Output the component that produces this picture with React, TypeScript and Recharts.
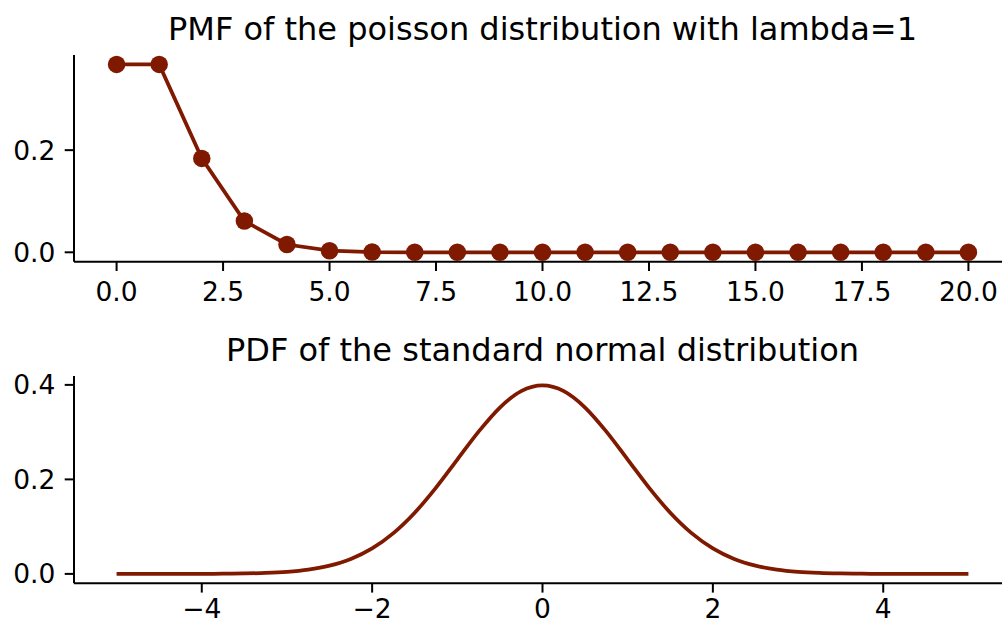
import React from 'react';
import { LineChart, Line, XAxis, YAxis } from 'recharts';

const poissonK = [0, 1, 2, 3, 4, 5, 6, 7, 8, 9, 10, 11, 12, 13, 14, 15, 16, 17, 18, 19, 20];
const poissonPmf = [
  0.3679, 0.3679, 0.1839, 0.0613, 0.0153, 0.0031, 0.0005, 0.0001, 0.0, 0.0, 0.0,
  0.0, 0.0, 0.0, 0.0, 0.0, 0.0, 0.0, 0.0, 0.0, 0.0,
];
const poissonXTicks = [0, 2.5, 5, 7.5, 10, 12.5, 15, 17.5, 20];
const poissonYTicks = [0, 0.2];

const normalX = [
  -5, -4.75, -4.5, -4.25, -4, -3.75, -3.5, -3.25, -3, -2.75, -2.5, -2.25, -2, -1.75, -1.5, -1.25, -1,
  -0.75, -0.5, -0.25, 0, 0.25, 0.5, 0.75, 1, 1.25, 1.5, 1.75, 2, 2.25, 2.5, 2.75, 3, 3.25, 3.5,
  3.75, 4, 4.25, 4.5, 4.75, 5,
];
const normalPdf = [
  0.0, 0.0, 0.0, 0.0, 0.0001, 0.0004, 0.0009, 0.002, 0.0044, 0.0091, 0.0175, 0.0317, 0.054,
  0.0863, 0.1295, 0.1826, 0.242, 0.3011, 0.3521, 0.3867, 0.3989, 0.3867, 0.3521, 0.3011, 0.242,
  0.1826, 0.1295, 0.0863, 0.054, 0.0317, 0.0175, 0.0091, 0.0044, 0.002, 0.0009, 0.0004, 0.0001,
  0.0, 0.0, 0.0, 0.0,
];
const normalXTicks = [-4, -2, 0, 2, 4];
const normalYTicks = [0, 0.2, 0.4];

const COLOR = '#7f1a00';
const FONT = 'DejaVu Sans';
const tickStyle = { fill: '#000', fontSize: 26.5, fontFamily: FONT };
const lineStyle = { stroke: '#000', strokeWidth: 2 };
const TICK = 9.3;

const poissonData = poissonK.map((k, i) => ({ x: k, y: poissonPmf[i] }));
const normalData = normalX.map((x, i) => ({ x, y: normalPdf[i] }));

const minus = (v: number) => String(v).replace('-', '\u2212');

export default function App() {
  return (
    <div style={{ position: 'absolute', left: 0, top: 0, width: 1002, height: 625, overflow: 'hidden', background: '#fff' }}>
      <div style={{ position: 'absolute', left: 0, top: 0 }}>
        <LineChart width={1011} height={320} data={poissonData} margin={{ top: 55, right: 0, bottom: 0, left: 0 }}>
          <XAxis
            dataKey="x"
            type="number"
            domain={[-1, 21]}
            ticks={poissonXTicks}
            interval={0}
            tickFormatter={(v: number) => v.toFixed(1)}
            height={58.3}
            tickSize={TICK}
            tickMargin={11.5}
            tick={tickStyle}
            axisLine={lineStyle}
            tickLine={lineStyle}
          />
          <YAxis
            type="number"
            domain={[-0.0184, 0.3863]}
            ticks={poissonYTicks}
            interval={0}
            tickFormatter={(v: number) => v.toFixed(1)}
            width={74}
            tickSize={TICK}
            tickMargin={TICK}
            tick={tickStyle}
            axisLine={lineStyle}
            tickLine={lineStyle}
          />
          <Line
            type="linear"
            dataKey="y"
            stroke={COLOR}
            strokeWidth={3.75}
            dot={{ r: 8.75, fill: COLOR, stroke: 'none' }}
            activeDot={false}
            isAnimationActive={false}
          />
        </LineChart>
      </div>
      <div style={{ position: 'absolute', left: 0, top: 320 }}>
        <LineChart width={1011} height={305} data={normalData} margin={{ top: 56, right: 0, bottom: 0, left: 0 }}>
          <XAxis
            dataKey="x"
            type="number"
            domain={[-5.5, 5.5]}
            ticks={normalXTicks}
            interval={0}
            tickFormatter={minus}
            height={41.7}
            tickSize={TICK}
            tickMargin={7}
            tick={tickStyle}
            axisLine={lineStyle}
            tickLine={lineStyle}
          />
          <YAxis
            type="number"
            domain={[-0.0199, 0.4188]}
            ticks={normalYTicks}
            interval={0}
            tickFormatter={(v: number) => v.toFixed(1)}
            width={74}
            tickSize={TICK}
            tickMargin={TICK}
            tick={tickStyle}
            axisLine={lineStyle}
            tickLine={lineStyle}
          />
          <Line
            type="monotone"
            dataKey="y"
            stroke={COLOR}
            strokeWidth={3.75}
            dot={false}
            activeDot={false}
            isAnimationActive={false}
          />
        </LineChart>
      </div>
      <svg width={1002} height={625} style={{ position: 'absolute', left: 0, top: 0, pointerEvents: 'none' }}>
        <text x={542.5} y={40} textAnchor="middle" fontFamily={FONT} fontSize={32} fill="#000">
          PMF of the poisson distribution with lambda=1
        </text>
        <text x={542.5} y={361} textAnchor="middle" fontFamily={FONT} fontSize={32} fill="#000">
          PDF of the standard normal distribution
        </text>
      </svg>
    </div>
  );
}
